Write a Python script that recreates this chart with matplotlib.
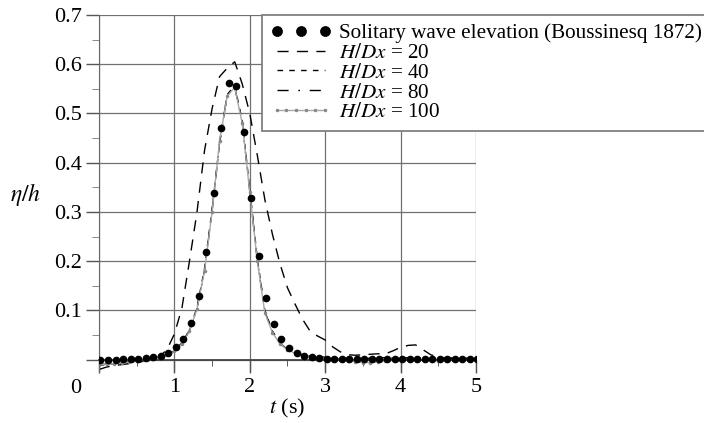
import matplotlib
matplotlib.use("Agg")
import matplotlib.pyplot as plt
from matplotlib.legend_handler import HandlerLine2D

plt.rcParams['font.family'] = ['Liberation Serif', 'DejaVu Serif']
plt.rcParams['mathtext.fontset'] = 'stix'

# Boussinesq (1872) solitary wave, sampled every 0.1 s
t_sol = [0.02, 0.12, 0.22, 0.32, 0.42, 0.52, 0.62, 0.72, 0.82, 0.92,
         1.02, 1.12, 1.22, 1.32, 1.42, 1.52, 1.62, 1.72, 1.82, 1.92,
         2.02, 2.12, 2.22, 2.32, 2.42, 2.52, 2.62, 2.72, 2.82, 2.92,
         3.02, 3.12, 3.22, 3.32, 3.42, 3.52, 3.62, 3.72, 3.82, 3.92,
         4.02, 4.12, 4.22, 4.32, 4.42, 4.52, 4.62, 4.72, 4.82, 4.92, 5.02]
eta_sol = [0.000, 0.000, 0.000, 0.001, 0.001, 0.002, 0.003, 0.005, 0.008, 0.014,
           0.026, 0.043, 0.074, 0.130, 0.218, 0.338, 0.470, 0.561, 0.556, 0.462,
           0.329, 0.210, 0.126, 0.072, 0.041, 0.024, 0.014, 0.008, 0.005, 0.003,
           0.002, 0.001, 0.001, 0.001, 0.001, 0.001, 0.001, 0.001, 0.001, 0.001,
           0.001, 0.001, 0.001, 0.001, 0.001, 0.001, 0.001, 0.001, 0.001, 0.001, 0.001]

# numerical results, output every 0.1 s
t_num = [0.0, 0.1, 0.2, 0.3, 0.4, 0.5, 0.6, 0.7, 0.8, 0.9,
         1.0, 1.1, 1.2, 1.3, 1.4, 1.5, 1.6, 1.7, 1.8, 1.9,
         2.0, 2.1, 2.2, 2.3, 2.4, 2.5, 2.6, 2.7, 2.8, 2.9,
         3.0, 3.1, 3.2, 3.3, 3.4, 3.5, 3.6, 3.7, 3.8, 3.9,
         4.0, 4.1, 4.2, 4.3, 4.4, 4.5, 4.6, 4.7, 4.8, 4.9, 5.0]

eta_20 = [-0.020, -0.015, -0.012, -0.010, -0.008, -0.006, -0.003, 0.000, 0.006, 0.020,
          0.052, 0.105, 0.200, 0.300, 0.425, 0.510, 0.575, 0.592, 0.605, 0.560,
          0.500, 0.415, 0.325, 0.255, 0.195, 0.146, 0.113, 0.082, 0.058, 0.048,
          0.040, 0.026, 0.016, 0.010, 0.009, 0.010, 0.011, 0.012, 0.012, 0.018,
          0.025, 0.029, 0.030, 0.020, 0.010, 0.005, 0.003, 0.003, 0.003, 0.003, 0.003]

eta_40 = [-0.011, -0.010, -0.008, -0.006, -0.004, -0.002, 0.000, 0.002, 0.005, 0.010,
          0.018, 0.034, 0.060, 0.106, 0.185, 0.305, 0.440, 0.538, 0.557, 0.485,
          0.345, 0.205, 0.100, 0.058, 0.035, 0.022, 0.014, 0.010, 0.007, 0.006,
          0.005, 0.004, 0.003, 0.003, 0.002, 0.002, 0.003, 0.004, 0.004, 0.003,
          0.003, 0.004, 0.004, 0.003, 0.002, 0.002, 0.003, 0.003, 0.002, 0.002, 0.002]

eta_80 = [-0.010, -0.009, -0.008, -0.006, -0.004, -0.003, -0.001, 0.001, 0.004, 0.009,
          0.017, 0.033, 0.059, 0.104, 0.182, 0.302, 0.442, 0.537, 0.554, 0.482,
          0.342, 0.202, 0.098, 0.056, 0.033, 0.021, 0.013, 0.009, 0.006, 0.004,
          0.003, 0.002, 0.001, 0.000, -0.001, -0.002, -0.002, -0.001, 0.000, 0.001,
          0.002, 0.002, 0.002, 0.001, 0.000, 0.000, 0.001, 0.001, 0.001, 0.001, 0.001]

eta_100 = [-0.010, -0.009, -0.008, -0.006, -0.005, -0.003, -0.001, 0.001, 0.004, 0.009,
           0.017, 0.032, 0.058, 0.103, 0.180, 0.300, 0.445, 0.535, 0.553, 0.480,
           0.340, 0.200, 0.095, 0.055, 0.032, 0.020, 0.013, 0.008, 0.005, 0.003,
           0.002, 0.001, 0.000, -0.002, -0.004, -0.006, -0.006, -0.005, -0.003, -0.001,
           0.000, 0.001, 0.001, 0.000, -0.001, -0.002, -0.002, -0.001, 0.000, 0.000, 0.000]

y_ticks = [0.0, 0.1, 0.2, 0.3, 0.4, 0.5, 0.6, 0.7]
y_ticklabels = ['', '0.1', '0.2', '0.3', '0.4', '0.5', '0.6', '0.7']
x_ticks = [0, 1, 2, 3, 4, 5]
x_ticklabels = ['', '1', '2', '3', '4', '5']

fs = 16
fs_leg = 15.2

fig = plt.figure(figsize=(7.04, 4.23), dpi=100)
ax = fig.add_axes([0.1406, 0.1206, 0.5355, 0.8439])

ax.plot(t_sol, eta_sol, 'o', color='black', ms=4.5, zorder=5,
        label='Solitary wave elevation (Boussinesq 1872)')
ax.plot(t_num, eta_20, color='black', lw=1.0, dashes=(8, 6),
        label='$H/Dx$ = 20')
ax.plot(t_num, eta_40, color='black', lw=1.0, dashes=(4, 4.5),
        label='$H/Dx$ = 40')
ax.plot(t_num, eta_80, color='black', lw=1.0, dashes=(8, 7, 1.2, 7),
        label='$H/Dx$ = 80')
l100, = ax.plot(t_num, eta_100, color='#a8a8a8', lw=1.0, marker='.', ms=3,
                mfc='#888888', mec='#888888', label='$H/Dx$ = 100')

ax.set_xlim(0, 5)
ax.set_ylim(-0.025, 0.7)

ax.set_xticks(x_ticks)
ax.set_xticklabels(x_ticklabels)
ax.set_xticks([0.5, 1.5, 2.5, 3.5, 4.5], minor=True)
ax.set_yticks(y_ticks)
ax.set_yticklabels(y_ticklabels)
ax.set_yticks([0.05, 0.15, 0.25, 0.35, 0.45, 0.55, 0.65], minor=True)

ax.tick_params(axis='both', which='major', labelsize=fs, color='#555555',
               width=1.0)
ax.tick_params(axis='y', which='major', length=9.4, pad=3)
ax.tick_params(axis='y', which='minor', length=4.7, color='#777777')
ax.tick_params(axis='x', which='major', length=9.4, pad=4)
ax.tick_params(axis='x', which='minor', length=4.5, color='#444444')

for s in ['top', 'right']:
    ax.spines[s].set_visible(False)
ax.spines['bottom'].set_position(('data', 0))
ax.spines['bottom'].set_color('#444444')
ax.spines['bottom'].set_linewidth(1.3)
ax.spines['left'].set_color('#666666')

ax.grid(True, which='major', color='#707070', lw=0.9)
ax.set_axisbelow(True)

ax.text(-0.061, -0.045, '0', transform=ax.transAxes, fontsize=fs,
        ha='center', va='center')

ax.set_ylabel(r'$\eta/h$', fontsize=fs + 1, rotation=0, ha='center', va='center')
ax.yaxis.set_label_coords(-0.194, 0.496)
ax.set_xlabel('$t$ (s)', fontsize=fs, va='center')
ax.xaxis.set_label_coords(0.5, -0.101)

leg = ax.legend(loc='upper left', bbox_to_anchor=(0.432, 1.0), borderaxespad=0,
                fontsize=fs_leg, frameon=True, fancybox=False, framealpha=1,
                edgecolor='#808080', handlelength=2.9, handletextpad=0.35,
                labelspacing=0.0, borderpad=0.4, markerscale=1.5,
                handler_map={l100: HandlerLine2D(numpoints=6)}, numpoints=3)
leg.get_frame().set_linewidth(1.3)
for h in leg.legend_handles[4:]:
    h.set_markersize(3)

fig.savefig('out.png', dpi=100)
